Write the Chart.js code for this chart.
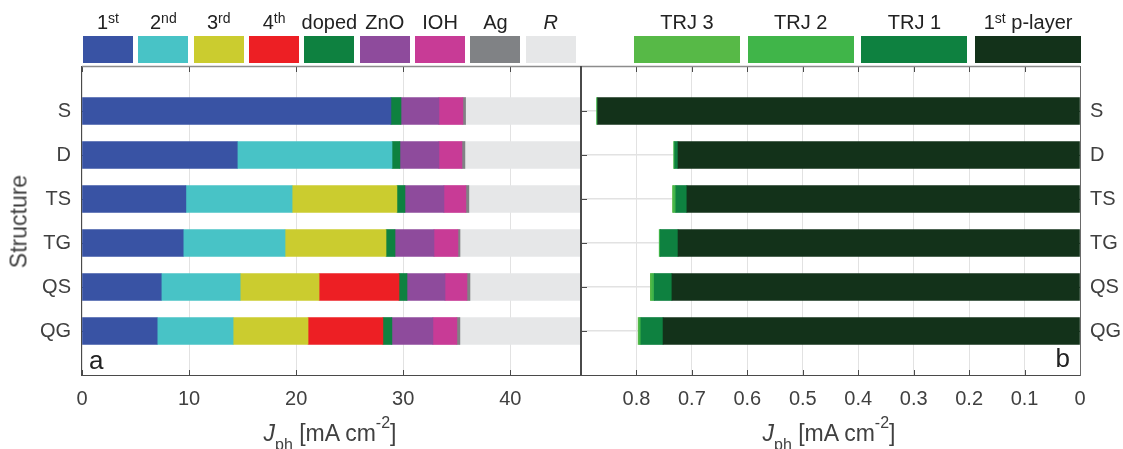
<!DOCTYPE html>
<html>
<head>
<meta charset="utf-8">
<script src="https://cdn.jsdelivr.net/npm/chart.js@4.4.1/dist/chart.umd.min.js"></script>
<style>
  body { margin: 0; background: #fff; }
  #fig { position: relative; width: 1123px; height: 449px; overflow: hidden;
         font-family: "Liberation Sans", Arial, Helvetica, sans-serif; color: #404040; }
  #fig canvas { position: absolute; top: 0; }
  .lg-box { position: absolute; top: 36px; height: 27px; }
  .lg-txt { position: absolute; top: 12px; width: 140px; font-size: 20px; line-height: 20px;
            text-align: center; white-space: nowrap; color: #222; }
  .lg-txt sup { font-size: 14px; position: relative; top: -6.5px; vertical-align: baseline; }
  .ax-title { position: absolute; top: 422px; width: 300px; font-size: 23px; line-height: 23px;
              text-align: center; white-space: nowrap; color: #404040; }
  .ax-title sub { font-size: 16px; position: relative; top: 9px; vertical-align: baseline; }
  .ax-title sup { font-size: 16px; position: relative; top: -13px; vertical-align: baseline; }
  .y-title { position: absolute; left: -81px; top: 210px; width: 200px; height: 23px;
             font-size: 23px; line-height: 23px; text-align: center; color: #404040;
             transform: rotate(-90deg); }
  .panel { position: absolute; font-size: 26px; line-height: 26px; color: #222; }
</style>
</head>
<body>
<div id="fig">
  <canvas id="chartA" width="600" height="449" style="left:0"></canvas>
  <canvas id="chartB" width="561" height="449" style="left:562px"></canvas>
  <div class="y-title">Structure</div>
  <div class="ax-title" style="left:180px"><i>J</i><sub>ph</sub> [mA cm<sup>-2</sup>]</div>
  <div class="ax-title" style="left:679px"><i>J</i><sub>ph</sub> [mA cm<sup>-2</sup>]</div>
  <div class="panel" style="left:89px;top:347px">a</div>
  <div class="panel" style="right:53px;top:345px">b</div>
</div>
<script>
// Device structures (single, double, triple, quadruple junctions)
const structures = ['S', 'D', 'TS', 'TG', 'QS', 'QG'];

// Panel a: photocurrent split per layer [mA cm^-2]
const jFirst  = [28.85, 14.50,  9.70,  9.45,  7.40,  7.02];
const jSecond = [0,     14.45,  9.92,  9.51,  7.37,  7.09];
const jThird  = [0,      0,     9.79,  9.43,  7.37,  7.00];
const jFourth = [0,      0,     0,     0,     7.46,  6.99];
const jDoped  = [0.94,   0.74,  0.75,  0.84,  0.75,  0.84];
const jZnO    = [3.54,   3.64,  3.64,  3.64,  3.55,  3.83];
const jIOH    = [2.24,   2.15,  2.05,  2.24,  2.05,  2.24];
const jAg     = [0.25,   0.28,  0.28,  0.19,  0.28,  0.28];
const jR      = [10.70, 10.76, 10.39, 11.22, 10.37, 11.31];

// Panel b: parasitic photocurrent in p-layer and recombination junctions [mA cm^-2]
const jPLayer = [0.870, 0.725, 0.709, 0.725, 0.736, 0.752];
const jTRJ1   = [0,     0.006, 0.020, 0.032, 0.032, 0.040];
const jTRJ2   = [0.002, 0.002, 0.004, 0.002, 0.004, 0.003];
const jTRJ3   = [0,     0,     0.002, 0,     0.003, 0.002];

// Axis ticks
const xTicksA = [0, 10, 20, 30, 40];
const xTicksB = [0.8, 0.7, 0.6, 0.5, 0.4, 0.3, 0.2, 0.1, 0];
const xMaxA = 46.6;
const xMaxB = 0.9;

// Layer names and colours
const layersA = [
  { name: '1st',   color: '#3953a4', data: jFirst },
  { name: '2nd',   color: '#48c3c6', data: jSecond },
  { name: '3rd',   color: '#cbcc2f', data: jThird },
  { name: '4th',   color: '#ed1f24', data: jFourth },
  { name: 'doped', color: '#0e8140', data: jDoped },
  { name: 'ZnO',   color: '#8e4b9c', data: jZnO },
  { name: 'IOH',   color: '#c83b96', data: jIOH },
  { name: 'Ag',    color: '#808285', data: jAg },
  { name: 'R',     color: '#e6e7e8', data: jR, italic: true }
];
// stacked from 0 (right edge) outwards
const layersB = [
  { name: '1st p-layer', color: '#13321a', data: jPLayer },
  { name: 'TRJ 1',       color: '#0e8140', data: jTRJ1 },
  { name: 'TRJ 2',       color: '#40b549', data: jTRJ2 },
  { name: 'TRJ 3',       color: '#57b947', data: jTRJ3 }
];

Chart.defaults.font.family = '"Liberation Sans", Arial, Helvetica, sans-serif';
Chart.defaults.color = '#404040';

// category axis padded with blank slots so the six bars sit at equal spacing inside the box
const catLabels = ['', ...structures, ''];
const pad = arr => [null, ...arr.map(v => (v === 0 ? null : v)), null];

const GRID = '#e2e2e2';
const AXIS = '#4a4a4a';

// inward tick marks (under the bars) and the axes box (over the bars)
const framePlugin = {
  id: 'frame',
  beforeDatasetsDraw(chart) {
    const { ctx, chartArea: a, scales: { x, y } } = chart;
    ctx.save();
    ctx.strokeStyle = AXIS;
    ctx.lineWidth = 1;
    ctx.beginPath();
    x.ticks.forEach(t => {
      const px = Math.round(x.getPixelForValue(t.value)) + 0.5;
      ctx.moveTo(px, a.bottom); ctx.lineTo(px, a.bottom - 5);
      ctx.moveTo(px, a.top); ctx.lineTo(px, a.top + 5);
    });
    y.ticks.forEach((t, i) => {
      if (!t.label) return;
      const py = Math.round(y.getPixelForTick(i)) + 0.5;
      ctx.moveTo(a.left, py); ctx.lineTo(a.left + 6, py);
      ctx.moveTo(a.right, py); ctx.lineTo(a.right - 6, py);
    });
    ctx.stroke();
    ctx.restore();
  },
  afterDatasetsDraw(chart, args, opts) {
    const { ctx, chartArea: a } = chart;
    const isLeft = opts.side === 'left';
    ctx.save();
    const seg = (x1, y1, x2, y2, c, w) => {
      ctx.strokeStyle = c; ctx.lineWidth = w;
      ctx.beginPath(); ctx.moveTo(x1, y1); ctx.lineTo(x2, y2); ctx.stroke();
    };
    // top edge
    seg(a.left, a.top - 0.5, a.right, a.top - 0.5, '#8c8c8c', 1.5);
    // bottom edge
    seg(a.left - 1, a.bottom + 0.5, a.right + 1, a.bottom + 0.5, AXIS, 1);
    // left / right edges; the shared edge between the panels is heavier
    const xl = a.left + (isLeft ? -0.5 : 0);
    const xr = a.right + (isLeft ? 0 : 0.5);
    seg(xl, a.top - 1, xl, a.bottom + 1, AXIS, isLeft ? 1 : 2);
    seg(xr, a.top - 1, xr, a.bottom + 1, isLeft ? AXIS : '#6a6a6a', isLeft ? 2 : 1);
    ctx.restore();
  }
};

const gridColor = ctx => (ctx.tick && ctx.tick.label === '' ? 'rgba(0,0,0,0)' : GRID);

function makeChart(canvasId, layers, xTicks, xMax, reverse, side) {
  return new Chart(document.getElementById(canvasId), {
    type: 'bar',
    data: {
      labels: catLabels,
      datasets: layers.map(l => ({
        label: l.name,
        data: pad(l.data),
        backgroundColor: l.color,
        borderWidth: 0,
        barThickness: 27
      }))
    },
    options: {
      indexAxis: 'y',
      responsive: false,
      animation: false,
      devicePixelRatio: 1,
      layout: { padding: side === 'left'
        ? { top: 67, right: 19, left: 0, bottom: 0 }
        : { top: 67, right: 0, left: 19, bottom: 0 } },
      plugins: { legend: { display: false }, tooltip: { enabled: false }, frame: { side } },
      scales: {
        x: {
          type: 'linear',
          stacked: true,
          min: 0,
          max: xMax,
          reverse,
          afterBuildTicks: s => { s.ticks = xTicks.map(v => ({ value: v })); },
          afterFit: s => { s.height = 74; },
          grid: { color: GRID, lineWidth: 1, drawTicks: false },
          border: { display: false },
          ticks: { padding: 12, font: { size: 20 }, color: '#404040', maxRotation: 0,
                   callback: v => String(v) }
        },
        y: {
          type: 'category',
          position: side === 'left' ? 'left' : 'right',
          stacked: true,
          offset: false,
          afterFit: s => { s.width = side === 'left' ? 82 : 43; },
          grid: { color: gridColor, lineWidth: 1.5, drawTicks: false, offset: false },
          border: { display: false },
          ticks: { padding: side === 'left' ? 11 : 10, font: { size: 20 }, color: '#404040', autoSkip: false }
        }
      }
    },
    plugins: [framePlugin]
  });
}

makeChart('chartA', layersA, xTicksA, xMaxA, false, 'left');
makeChart('chartB', layersB, xTicksB, xMaxB, true, 'right');

// legend rows above each panel: name over a colour swatch
const fig = document.getElementById('fig');
function legendLabel(l) {
  const m = l.name.match(/^(\d)(st|nd|rd|th)(.*)$/);
  const html = m ? `${m[1]}<sup>${m[2]}</sup>${m[3]}` : l.name;
  return l.italic ? `<i>${html}</i>` : html;
}
function addLegend(items, x0, step, w) {
  items.forEach((l, i) => {
    const left = x0 + i * step;
    const box = document.createElement('div');
    box.className = 'lg-box';
    box.style.left = left + 'px';
    box.style.width = w + 'px';
    box.style.background = l.color;
    fig.appendChild(box);
    const txt = document.createElement('div');
    txt.className = 'lg-txt';
    txt.style.left = (left + w / 2 - 70) + 'px';
    txt.innerHTML = legendLabel(l);
    fig.appendChild(txt);
  });
}
addLegend(layersA, 83, 55.35, 50);
addLegend(layersB.slice().reverse(), 634, 113.7, 106);
</script>
</body>
</html>
